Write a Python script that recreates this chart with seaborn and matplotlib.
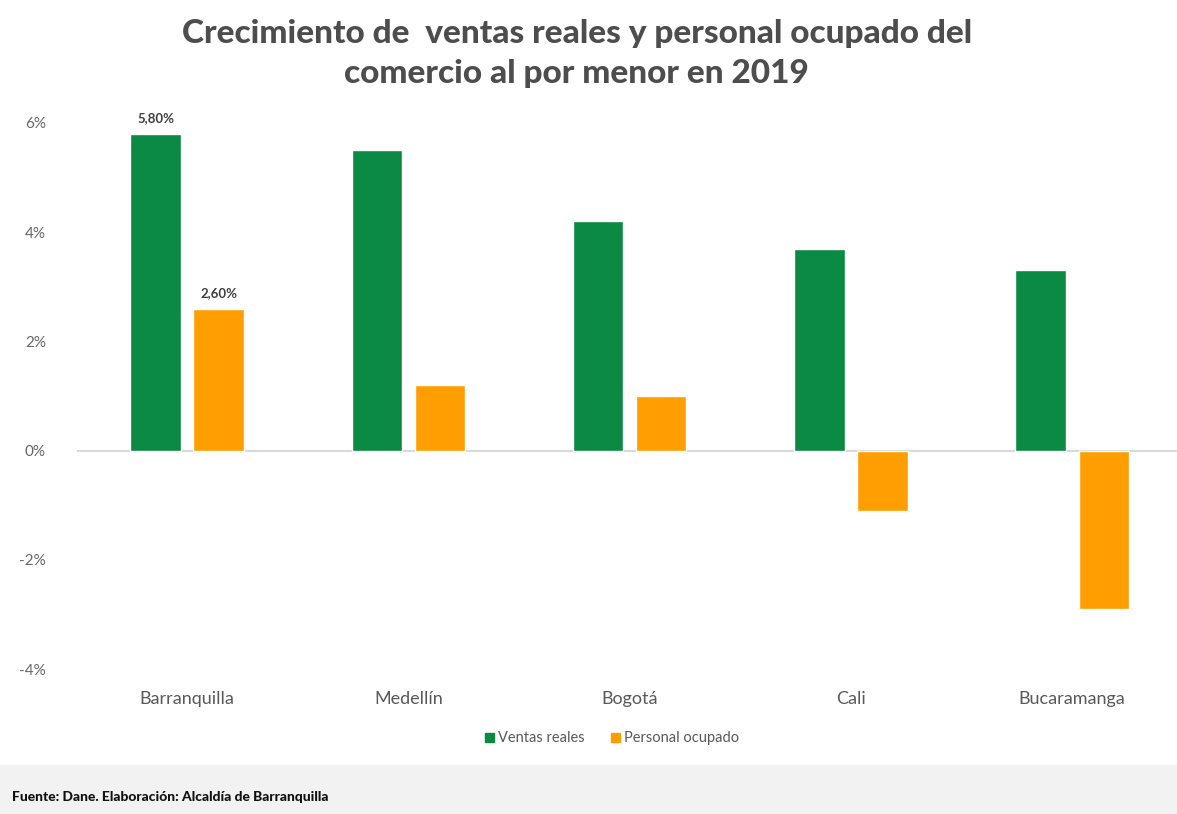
import pandas as pd
import matplotlib.pyplot as plt
import matplotlib.patches as mpatches
import seaborn as sns

# --- Datos ---
ciudades = ['Barranquilla', 'Medellín', 'Bogotá', 'Cali', 'Bucaramanga']
ventas_reales = [5.8, 5.5, 4.2, 3.7, 3.3]
personal_ocupado = [2.6, 1.2, 1.0, -1.1, -2.9]
series = ['Ventas reales', 'Personal ocupado']
colores = ['#0B8A44', '#FF9E00']

df = pd.DataFrame({
    'ciudad': ciudades * 2,
    'serie': [series[0]] * len(ciudades) + [series[1]] * len(ciudades),
    'valor': ventas_reales + personal_ocupado,
})

sns.set_style('white')
plt.rcParams['font.family'] = ['Lato', 'DejaVu Sans']

fig = plt.figure(figsize=(11.77, 8.14), dpi=100)
ax = fig.add_axes([0.065, 0.178, 0.94, 0.671])

sns.barplot(data=df, x='ciudad', y='valor', hue='serie', palette=colores,
            width=0.57, gap=0.2, ax=ax, legend=False, saturation=1)

ax.set_ylim(-4, 6)
ax.set_xlim(-0.5, 4.5)
ax.set_yticks([-4, -2, 0, 2, 4, 6])
ax.set_yticklabels([f'{t}%' for t in [-4, -2, 0, 2, 4, 6]], color='#666666', fontsize=11)
ax.tick_params(axis='y', length=0, pad=22)
ax.tick_params(axis='x', length=0, pad=16, labelsize=13, labelcolor='#595959')
ax.set_xlabel('')
ax.set_ylabel('')
for s in ax.spines.values():
    s.set_visible(False)
ax.axhline(0, color='#d9d9d9', lw=1.5, zorder=0)

# Etiquetas solo para Barranquilla
bar_v = ax.patches[0]
bar_p = ax.patches[len(ciudades)]
for bar, txt in [(bar_v, '5,80%'), (bar_p, '2,60%')]:
    ax.text(bar.get_x() + bar.get_width() / 2, bar.get_height() + 0.18, txt,
            ha='center', va='bottom', fontsize=9.5, fontweight='bold', color='#404040')

# Leyenda
handles = [mpatches.Patch(color=c, label=s) for c, s in zip(colores, series)]
fig.legend(handles=handles, loc='center', bbox_to_anchor=(0.52, 0.093), ncol=2,
           frameon=False, fontsize=10.5, handlelength=0.6, handleheight=0.6,
           handletextpad=0.3, columnspacing=1.8, labelcolor='#595959')

# Título
fig.text(0.49, 0.959, 'Crecimiento de  ventas reales y personal ocupado del',
         ha='center', va='center', fontsize=24, fontweight='black', color='#4d4d4d')
fig.text(0.49, 0.910, 'comercio al por menor en 2019',
         ha='center', va='center', fontsize=24, fontweight='black', color='#4d4d4d')

# Pie de página
fig.patches.append(mpatches.Rectangle((0, 0), 1, 0.06, transform=fig.transFigure,
                                      color='#f2f2f2', zorder=0))
fig.text(0.01, 0.021, 'Fuente: Dane. Elaboración: Alcaldía de Barranquilla',
         ha='left', va='center', fontsize=10, fontweight='black', color='#111111')

plt.savefig('out.png', dpi=100)
